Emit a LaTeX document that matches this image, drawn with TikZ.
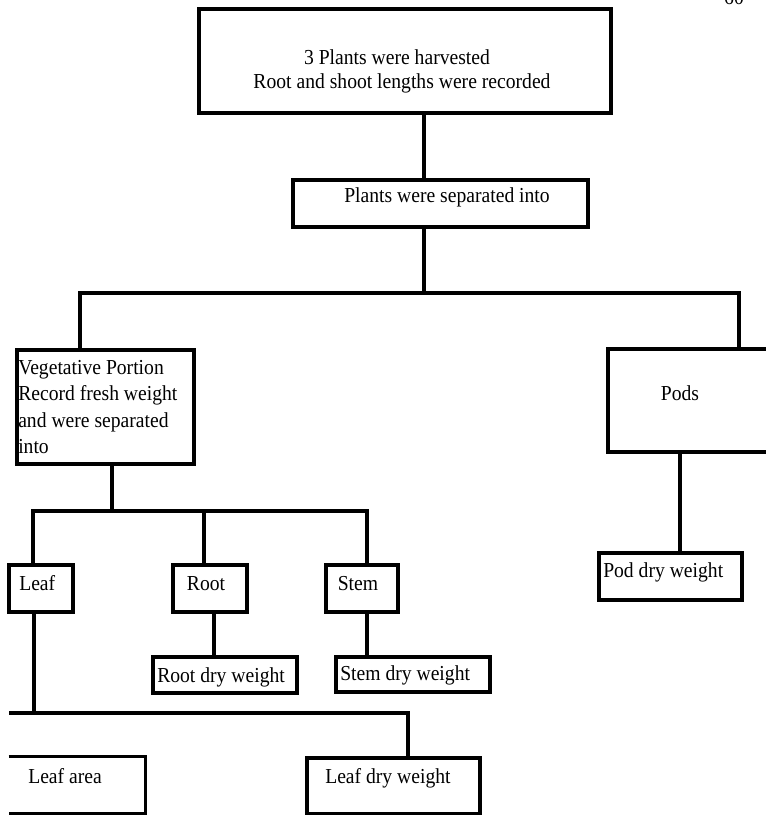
\documentclass[tikz,border=0pt]{standalone}
\usepackage{fontspec}
\setmainfont{Liberation Serif}[FakeStretch=0.92]

% box given by its corners (x1,y1) and (x2,y2), in pixel units
\newcommand\flowbox[6][box]{%
  \node[#1, minimum width={(#5-#3)*0.75pt}, minimum height={(#6-#4)*0.75pt}]
    (#2) at ({(#3+#5)/2},{(#4+#6)/2}) {};}

\begin{document}
\begin{tikzpicture}[x=0.75pt,y=-0.75pt,
  box/.style={draw, line width=2.5pt, inner sep=0pt, rectangle},
  openbox/.style={draw=none, inner sep=0pt, rectangle},
  txt/.style={inner sep=0pt, font=\fontsize{16}{19}\selectfont},
  link/.style={line width=2.3pt}]
\useasboundingbox (0,0) rectangle (766,815);

% page number, cut by the top edge
\node[txt, anchor=base] (pageno) at (734,4) {60};

% boxes
\flowbox{top}{199}{9}{611}{113}
\flowbox{sep}{293}{180}{588}{227}
\flowbox{veg}{17}{350}{194}{464}
\flowbox{pods}{608}{349}{790}{452}
\flowbox{leaf}{9}{565}{73}{612}
\flowbox{root}{173}{565}{247}{612}
\flowbox{stem}{326}{565}{398}{612}
\flowbox{rdw}{153}{657}{297}{693}
\flowbox{sdw}{336}{657}{490}{692}
\flowbox{pdw}{599}{553}{742}{600}
\flowbox[openbox]{larea}{9}{757}{145}{813}
\flowbox{ldw}{307}{758}{480}{814}
\draw[line width=2.5pt] (larea.north west) -| (larea.south east) -- (larea.south west);

% texts
\node[txt, anchor=base] (t1) at (397,64) {3 Plants were harvested};
\node[txt, anchor=base] (t2) at (402,88) {Root and shoot lengths were recorded};
\node[txt, anchor=base] (s1) at (447,202) {Plants were separated into};
\node[txt, anchor=base west] (v1) at (18,374) {Vegetative Portion};
\node[txt, anchor=base west] (v2) at (18,400) {Record fresh weight};
\node[txt, anchor=base west] (v3) at (18,427) {and were separated};
\node[txt, anchor=base west] (v4) at (18,453) {into};
\node[txt, anchor=base] (p1) at (680,400) {Pods};
\node[txt, anchor=base west] (l1) at (19,590) {Leaf};
\node[txt, anchor=base] (r1) at (206,590) {Root};
\node[txt, anchor=base] (st1) at (358,590) {Stem};
\node[txt, anchor=base west] (rd1) at (157,682) {Root dry weight};
\node[txt, anchor=base west] (sd1) at (340,680) {Stem dry weight};
\node[txt, anchor=base west] (pd1) at (603,577) {Pod dry weight};
\node[txt, anchor=base west] (la1) at (28,783) {Leaf area};
\node[txt, anchor=base west] (ld1) at (325,783) {Leaf dry weight};

% connectors
\coordinate (trunk) at (424,293);
\coordinate (jl) at (80,293);
\coordinate (jr) at (739,293);
\draw[link] (trunk |- top.south) -- (trunk |- sep.north);
\draw[link] (trunk |- sep.south) -- (trunk);
\draw[link] (jl |- veg.north) -- (jl) -- (jr) -- (jr |- pods.north);

\coordinate (vdown) at (112,511);
\coordinate (hl) at (33,511);
\coordinate (hr) at (367,511);
\coordinate (hroot) at (204,511);
\draw[link] (vdown |- veg.south) -- (vdown);
\draw[link] (hl |- leaf.north) -- (hl) -- (hr) -- (hr |- stem.north);
\draw[link] (hroot) -- (hroot |- root.north);

\coordinate (rd) at (214,0);
\draw[link] (rd |- root.south) -- (rd |- rdw.north);
\draw[link] (hr |- stem.south) -- (hr |- sdw.north);

\coordinate (pd) at (680,0);
\draw[link] (pd |- pods.south) -- (pd |- pdw.north);

\coordinate (lf) at (34,713);
\coordinate (le) at (9,713);
\coordinate (lr) at (408,713);
\draw[link] (lf |- leaf.south) -- (lf);
\draw[link] (le) -- (lr) -- (lr |- ldw.north);
\end{tikzpicture}
\end{document}
